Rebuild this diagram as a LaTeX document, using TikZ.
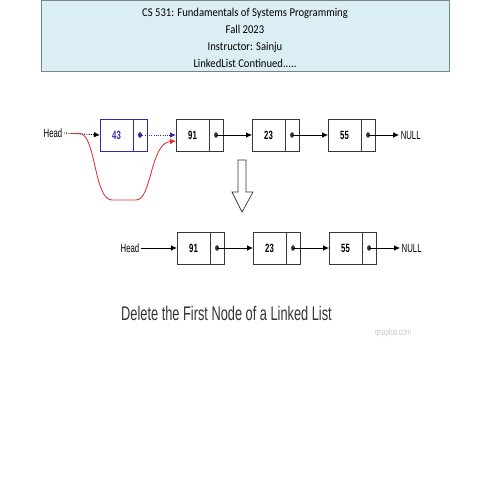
\documentclass[tikz,border=0pt]{standalone}
\usepackage{fontspec}
\setmainfont{Carlito}[FakeStretch=0.89]
\newfontfamily\narrowfont[FakeStretch=0.65]{Liberation Sans}
\usetikzlibrary{positioning,arrows.meta}

\definecolor{titlefill}{RGB}{219,238,244}
\definecolor{titleline}{RGB}{120,130,135}
\definecolor{oldblue}{RGB}{45,45,170}
\definecolor{newred}{RGB}{225,45,45}
\definecolor{boxline}{RGB}{55,55,55}

\tikzset{
  titlebox/.style={draw=titleline, fill=titlefill, line width=0.6pt, minimum width=10.2cm, minimum height=1.775cm},
  titletext/.style={align=center, inner sep=0pt, font=\fontsize{8.5}{12}\selectfont},
  data/.style={draw=boxline, line width=0.6pt, minimum width=0.825cm, minimum height=0.8cm, inner sep=0pt, outer sep=0pt, font=\narrowfont\bfseries\fontsize{8.5}{9}\selectfont},
  ptr/.style={draw=boxline, line width=0.6pt, minimum width=0.35cm, minimum height=0.8cm, inner sep=0pt, outer sep=0pt},
  tag/.style={inner sep=1pt, font=\narrowfont\fontsize{8.5}{9}\selectfont},
  link/.style={->, >={Latex[length=1.5mm,width=1.4mm]}, line width=0.6pt},
  dot/.style={fill=boxline}
}

\begin{document}
\begin{tikzpicture}[x=0.025cm, y=-0.025cm, node distance=0.725cm]
  \useasboundingbox (0,0) rectangle (480,480);

  % heading
  \node[titlebox] (title) at (245,35.5) {};
  \node[titletext] (titlelines) at (245,38) {CS 531: Fundamentals of Systems Programming\\Fall 2023\\Instructor: Sainju\\LinkedList Continued.....};

  % list before deleting
  \node[tag] (head1) at (53,133) {Head};
  \node[data, draw=oldblue, text=oldblue] (n43) at (116.5,135) {43};
  \node[ptr, draw=oldblue, right=0pt of n43] (p43) {};
  \node[data, right=of p43] (n91) {91};
  \node[ptr, right=0pt of n91] (p91) {};
  \node[data, right=of p91] (n23) {23};
  \node[ptr, right=0pt of n23] (p23) {};
  \node[data, right=of p23] (n55) {55};
  \node[ptr, right=0pt of n55] (p55) {};
  \node[tag, right=0.6cm of p55] (null1) {NULL};

  \fill[oldblue] (p43.center) ellipse (1.4pt and 2pt);
  \fill[dot] (p91.center) ellipse (1.4pt and 2pt);
  \fill[dot] (p23.center) ellipse (1.4pt and 2pt);
  \fill[dot] (p55.center) ellipse (1.4pt and 2pt);

  \draw[link, densely dotted] (head1.east) -- (n43.west);
  \draw[link, densely dotted, oldblue] (p43.center) -- (n91.west);
  \draw[link] (p91.center) -- (n23.west);
  \draw[link] (p23.center) -- (n55.west);
  \draw[link] (p55.center) -- (null1.west);

  \coordinate (redstart) at (72,133.5);
  \draw[link, newred] (redstart) -- (80,133.5) .. controls (96,135) and (94,200) .. (112,200) -- (136,200) .. controls (152,200) and (150,143) .. ([yshift=-0.15cm]n91.west);

  % hollow arrow
  \draw[boxline, line width=0.5pt] (238,160) -- (246,160) -- (246,192) -- (253,192) -- (242,212) -- (232,192) -- (238,192) -- cycle;

  % list after deleting
  \node[tag] (head2) at (130,248) {Head};
  \node[data] (m91) at (193.5,248) {91};
  \node[ptr, right=0pt of m91] (q91) {};
  \node[data, right=of q91] (m23) {23};
  \node[ptr, right=0pt of m23] (q23) {};
  \node[data, right=of q23] (m55) {55};
  \node[ptr, right=0pt of m55] (q55) {};
  \node[tag, right=0.6cm of q55] (null2) {NULL};

  \fill[dot] (q91.center) ellipse (1.4pt and 2pt);
  \fill[dot] (q23.center) ellipse (1.4pt and 2pt);
  \fill[dot] (q55.center) ellipse (1.4pt and 2pt);

  \draw[link] (head2.east) -- (m91.west);
  \draw[link] (q91.center) -- (m23.west);
  \draw[link] (q23.center) -- (m55.west);
  \draw[link] (q55.center) -- (null2.west);

  % caption
  \node[text=black!80, font=\narrowfont\fontsize{14}{16}\selectfont] (caption) at (226.5,313) {Delete the First Node of a Linked List};
  \node[text=black!22, font=\narrowfont\fontsize{7}{8}\selectfont] (mark) at (393,333) {qnaplus.com};
\end{tikzpicture}
\end{document}
